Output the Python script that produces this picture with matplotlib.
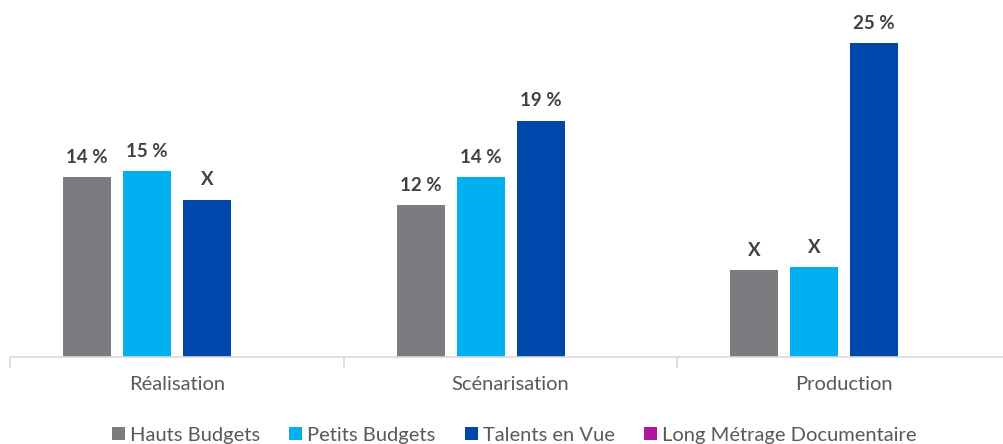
import numpy as np
from matplotlib import pyplot as plt

plt.rcParams['font.family'] = ['Lato', 'DejaVu Sans']

# data
categories = ['Réalisation', 'Scénarisation', 'Production']
series = ['Hauts Budgets', 'Petits Budgets', 'Talents en Vue', 'Long Métrage Documentaire']
hauts = [14.3, 12.1, 6.9]
petits = [14.8, 14.3, 7.1]
talents = [12.5, 18.8, 25.0]
documentaire = [np.nan, np.nan, np.nan]
hauts_labels = ['14 %', '12 %', 'X']
petits_labels = ['15 %', '14 %', 'X']
talents_labels = ['X', '19 %', '25 %']
documentaire_labels = ['', '', '']

colors = ['#7a7c80', '#00b0f0', '#0047ab', '#b0179b']
values = [hauts, petits, talents, documentaire]
labels = [hauts_labels, petits_labels, talents_labels, documentaire_labels]

fig = plt.figure(figsize=(10.04, 4.44), dpi=100)
ax = fig.add_axes([0.0103, 0.197, 0.9965, 0.803])

x = np.arange(len(categories))
slot = 0.18
width = 0.144
for i, (vals, labs, c, name) in enumerate(zip(values, labels, colors, series)):
    pos = x + (i - 1.5) * slot
    bars = ax.bar(pos, vals, width, color=c, label=name, edgecolor='none')
    for b, v, t in zip(bars, vals, labs):
        if np.isnan(v) or t == '':
            continue
        ax.annotate(t, (b.get_x() + b.get_width() / 2, v), xytext=(0, 8),
                    textcoords='offset points', ha='center', va='bottom',
                    fontsize=13.5, fontweight='bold', color='#404040')

ax.set_xlim(-0.5, 2.5)
ax.set_ylim(0, 28.4)
ax.set_yticks([])
for s in ['top', 'right', 'left']:
    ax.spines[s].set_visible(False)
ax.spines['bottom'].set_color('#d9d9d9')
ax.spines['bottom'].set_linewidth(1.2)

ax.set_xticks(x)
ax.set_xticklabels(categories, fontsize=14.5, color='#595959')
ax.tick_params(axis='x', which='major', length=0, pad=14)
ax.set_xticks([-0.5, 0.5, 1.5, 2.5], minor=True)
ax.tick_params(axis='x', which='minor', length=8, color='#d9d9d9', width=1.2)

fig.legend(loc='lower center', bbox_to_anchor=(0.512, -0.04), ncol=4, frameon=False,
           fontsize=14.5, handlelength=0.65, handleheight=0.65, handletextpad=0.25,
           columnspacing=1.45, labelcolor='#595959')

fig.savefig('out.png', dpi=100)
